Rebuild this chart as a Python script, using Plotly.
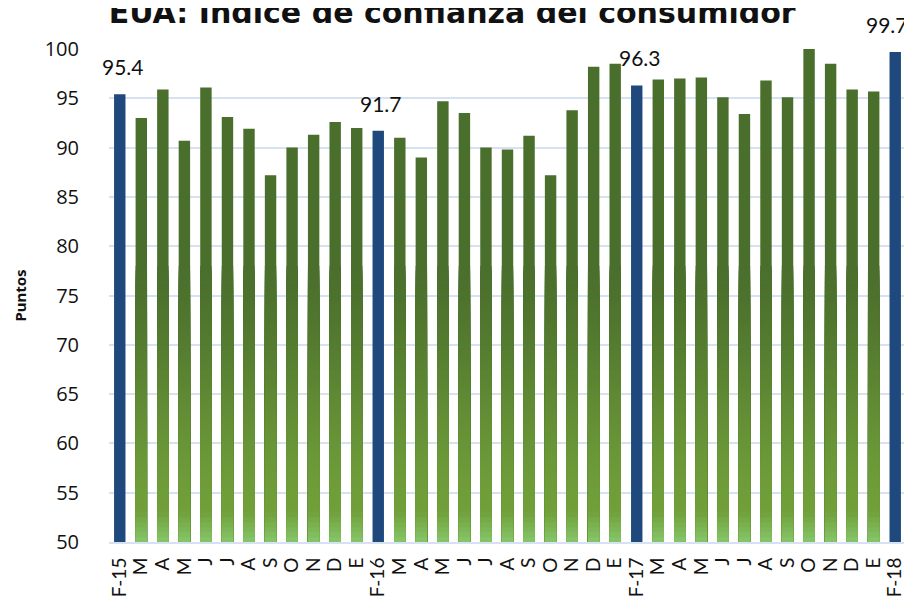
import plotly.graph_objects as go

# ---- data ----
tick_labels = ["F-15", "M", "A", "M", "J", "J", "A", "S", "O", "N", "D", "E",
               "F-16", "M", "A", "M", "J", "J", "A", "S", "O", "N", "D", "E",
               "F-17", "M", "A", "M", "J", "J", "A", "S", "O", "N", "D", "E",
               "F-18"]
values = [95.4, 93.0, 95.9, 90.7, 96.1, 93.1, 91.9, 87.2, 90.0, 91.3, 92.6, 92.0,
          91.7, 91.0, 89.0, 94.7, 93.5, 90.0, 89.8, 91.2, 87.2, 93.8, 98.2, 98.5,
          96.3, 96.9, 97.0, 97.1, 95.1, 93.4, 96.8, 95.1, 100.7, 98.5, 95.9, 95.7,
          99.7]
highlight = [lab.startswith("F-") for lab in tick_labels]

x_all = list(range(len(tick_labels)))
blue_x = [i for i in x_all if highlight[i]]
blue_y = [values[i] for i in blue_x]
green_x = [i for i in x_all if not highlight[i]]
green_y = [values[i] for i in green_x]

BLUE = "#1F497D"
DARK = (74, 110, 44)
MID = (113, 160, 58)
LIGHT = (134, 198, 106)
Y_MIN, Y_MAX = 50, 100
BAR_W = 0.53
G_TOP = 78.0


def lerp(c1, c2, t):
    return "rgb(%d,%d,%d)" % tuple(round(a + (b - a) * t) for a, b in zip(c1, c2))


def grad_color(v):
    if v >= G_TOP:
        return lerp(DARK, DARK, 0)
    if v >= 53:
        t = (G_TOP - v) / (G_TOP - 53)
        t = t * t * (3 - 2 * t) * 0.5 + t * 0.5  # soft start
        return lerp(DARK, MID, t)
    return lerp(MID, LIGHT, (53 - v) / 3.0)


fig = go.Figure()

# base green bars (dark top colour)
fig.add_trace(go.Bar(x=green_x, y=green_y, base=0, width=BAR_W,
                     marker=dict(color=lerp(DARK, DARK, 0), line=dict(width=0)),
                     hoverinfo="skip", showlegend=False))

# gradient: nested bars from the axis floor, tallest first, so no seams appear
step = 0.5
hi = G_TOP
while hi > Y_MIN:
    heights = [max(0.0, min(v, hi) - Y_MIN) for v in green_y]
    fig.add_trace(go.Bar(x=green_x, y=heights, base=Y_MIN, width=BAR_W,
                         marker=dict(color=grad_color(hi - step / 2), line=dict(width=0)),
                         hoverinfo="skip", showlegend=False))
    hi -= step

# highlighted (February) bars
fig.add_trace(go.Bar(x=blue_x, y=blue_y, base=0, width=BAR_W,
                     marker=dict(color=BLUE, line=dict(width=0)),
                     hoverinfo="skip", showlegend=False))

# data labels for highlighted bars
for xi, yi in zip(blue_x, blue_y):
    fig.add_annotation(x=xi, y=yi, text=f"{yi:.1f}", showarrow=False,
                       yanchor="bottom", yshift=13, xshift=-8 if xi == x_all[-1] else 3,
                       font=dict(family="Lato, DejaVu Sans", size=21, color="#111111"))

fig.update_layout(
    width=912, height=601,
    margin=dict(l=99, r=14, t=41, b=58),
    paper_bgcolor="white", plot_bgcolor="white",
    barmode="overlay",
    title=dict(text="<b>EUA: Índice de confianza del consumidor</b>",
               x=0.487, xanchor="center", y=1 - 15 / 601, yanchor="bottom", yref="container",
               font=dict(family="DejaVu Sans", size=30, color="#111111")),
    showlegend=False,
)

fig.update_xaxes(
    range=[-0.5, len(tick_labels) - 0.5],
    tickmode="array", tickvals=x_all, ticktext=tick_labels,
    tickangle=-90, ticks="", showgrid=False,
    showline=True, linecolor="#D6E1F2", linewidth=2,
    tickfont=dict(family="Lato, DejaVu Sans", size=19, color="#111111"),
    ticklabelstandoff=6,
)

fig.update_yaxes(
    range=[Y_MIN, Y_MAX], dtick=5, tick0=50,
    showgrid=True, gridcolor="#D6E1F2", gridwidth=2,
    zeroline=False, showline=False, ticks="",
    tickfont=dict(family="Open Sans, Noto Sans", size=20, color="#111111"),
    ticklabelstandoff=29,
    title=dict(text="<b>Puntos</b>", standoff=14,
               font=dict(family="Noto Sans, DejaVu Sans", size=15, color="#111111")),
)

fig.write_html("out.html")
